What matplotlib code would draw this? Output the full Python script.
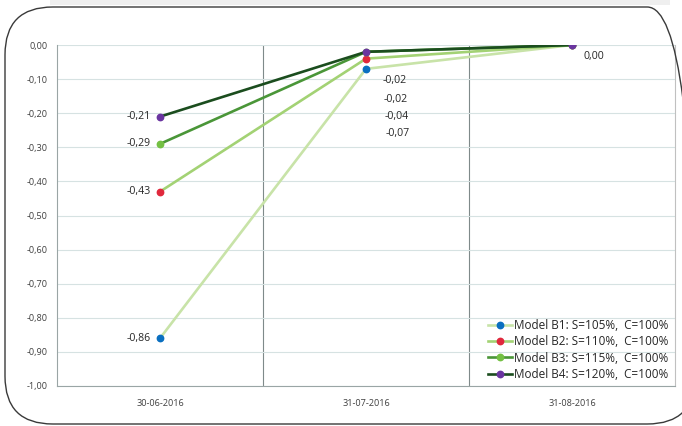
import matplotlib
matplotlib.use("Agg")
import matplotlib.pyplot as plt
from matplotlib.patches import FancyBboxPatch, Rectangle

categories = ["30-06-2016", "31-07-2016", "31-08-2016"]
series_names = ["Model B1: S=105%,  C=100%", "Model B2: S=110%,  C=100%",
                "Model B3: S=115%,  C=100%", "Model B4: S=120%,  C=100%"]
b1 = [-0.86, -0.07, 0.00]
b2 = [-0.43, -0.04, 0.00]
b3 = [-0.29, -0.02, 0.00]
b4 = [-0.21, -0.02, 0.00]
series = [b1, b2, b3, b4]
yticks = [0.0, -0.1, -0.2, -0.3, -0.4, -0.5, -0.6, -0.7, -0.8, -0.9, -1.0]

line_colors = ["#c8e3a8", "#a3d274", "#4a9638", "#1b4d1e"]
marker_colors = ["#0a6fc0", "#e0283c", "#74c043", "#6a35a0"]

def fmt(v):
    return f"{v:.2f}".replace(".", ",")

plt.rcParams['font.family'] = ['Open Sans', 'DejaVu Sans']

fig = plt.figure(figsize=(6.82, 4.26), dpi=100)
fig.patch.set_facecolor("white")

# top grey stripe and rounded frame
fig.patches.append(Rectangle((50/682, 1-5/426), 620/682, 5/426, transform=fig.transFigure,
                             facecolor="#efefef", edgecolor="none", zorder=0))
fig.patches.append(FancyBboxPatch((5/682, 1-424/426), 690/682, 417/426,
                                  boxstyle="round,pad=0,rounding_size=0.07",
                                  transform=fig.transFigure, facecolor="none",
                                  edgecolor="#3a3a3a", linewidth=1.0, zorder=1,
                                  mutation_aspect=682/426))

ax = fig.add_axes([57/682, 1-386/426, 618/682, 341/426])
ax.set_facecolor("none")
x = list(range(len(categories)))

for s, name, lc, mc in zip(series, series_names, line_colors, marker_colors):
    ax.plot(x, s, color=lc, linewidth=1.9, marker="o", markersize=4.6,
            markerfacecolor=mc, markeredgecolor=mc, label=name, zorder=3)

# data labels at first category
for s in series:
    ax.annotate(fmt(s[0]), (x[0], s[0]), xytext=(-9, 0), textcoords="offset pixels",
                ha="right", va="center", fontsize=7.6, color="#262626")

# data labels at second category (stacked)
offsets = {0: (20, -65), 1: (19, -58), 2: (18, -48), 3: (17, -29)}
for i, s in enumerate(series):
    dx, dy = offsets[i]
    ax.annotate(fmt(s[1]), (x[1], s[1]), xytext=(dx, dy), textcoords="offset pixels",
                ha="left", va="center", fontsize=7.6, color="#262626")

# third category label
ax.annotate(fmt(b4[2]), (x[2], b4[2]), xytext=(11, -12), textcoords="offset pixels",
            ha="left", va="center", fontsize=7.6, color="#262626")

ax.set_xlim(-0.5, 2.5)
ax.set_ylim(-1.0, 0.0)
ax.set_yticks(yticks)
ax.set_yticklabels([fmt(v) for v in yticks])
ax.set_xticks(x)
ax.set_xticklabels(categories)
ax.tick_params(axis="both", length=0, labelsize=6.6, labelcolor="#404040")
ax.tick_params(axis="y", pad=7)
ax.tick_params(axis="x", pad=9)
ax.grid(axis="y", color="#d6e2e2", linewidth=0.8, zorder=0)
for xv in [0.5, 1.5]:
    ax.axvline(xv, color="#7f8a8a", linewidth=0.8, zorder=1)
ax.spines["top"].set_visible(False)
ax.spines["left"].set_color("#9aa5a5")
ax.spines["bottom"].set_color("#9aa5a5")
ax.spines["right"].set_color("#c0c0c0")
for sp in ["left", "bottom", "right"]:
    ax.spines[sp].set_linewidth(0.8)

leg = ax.legend(loc="lower right", bbox_to_anchor=(1.0, -0.006), frameon=False,
                fontsize=8.5, handlelength=2.0, handletextpad=0.15,
                labelspacing=0.29, borderaxespad=0.2)
for t in leg.get_texts():
    t.set_color("#262626")

fig.savefig("out.png", dpi=100)
